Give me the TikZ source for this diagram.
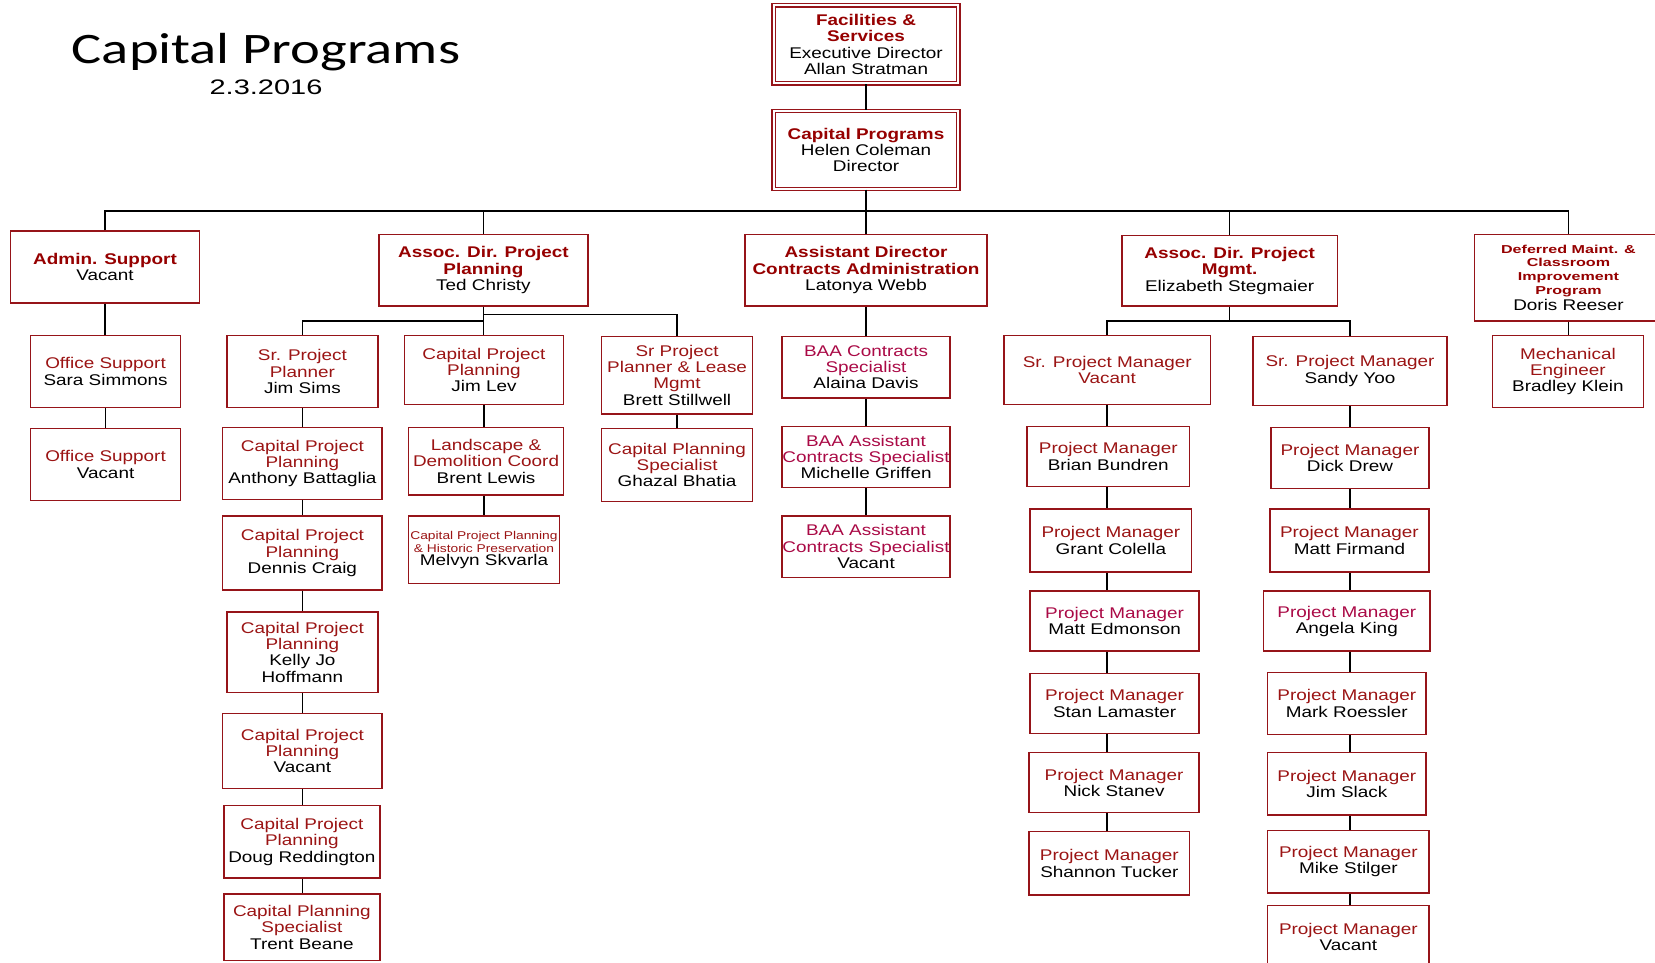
\documentclass[tikz,border=0pt]{standalone}
\usepackage{fontspec}
\setmainfont{Liberation Sans}
\newfontfamily\bxf[FakeStretch=1.22]{Liberation Sans}
\newfontfamily\dmf[FakeStretch=1.4]{Liberation Sans}
\newfontfamily\ttlf[FakeStretch=1.3]{Carlito}
\newfontfamily\dtf[FakeStretch=1.38]{Liberation Sans}
\definecolor{bord}{RGB}{150,20,25}
\definecolor{hd}{RGB}{150,0,0}
\definecolor{tl}{RGB}{155,20,20}
\definecolor{mg}{RGB}{170,10,70}
\newcommand\HD[1]{{\color{hd}\bfseries #1}}
\newcommand\TL[1]{{\color{tl}#1}}
\newcommand\MG[1]{{\color{mg}#1}}
\newcommand\DM[1]{{\color{hd}\dmf\bfseries\fontsize{11.5}{13.7}\selectfont #1}}
\newcommand\SM[1]{{\color{tl}\bxf\fontsize{11.3}{12.7}\selectfont #1}}
\newcommand\BX[7][]{\node[box,#1,minimum width={(#5-#3)*1.0555pt},minimum height={(#6-#4)*1.0555pt}] (#2) at ({(#3+#5)/2},{(#4+#6)/2}) {#7};}
\tikzset{
  box/.style={draw=bord, line width=1.5pt, fill=white, inner sep=0pt, align=center,
    font=\bxf\fontsize{15.5}{16.3}\selectfont, text=black},
  dbl/.style={double=white, double distance=2pt, line width=1.3pt},
  conn/.style={draw=black, line width=1.6pt},
}
\begin{document}
\begin{tikzpicture}[x=1.0555pt,y=-1.0555pt]
\path[use as bounding box] (0,0) rectangle (1568,912);
\fill[white] (0,0) rectangle (1568,912);
\begin{scope}
\clip (0,0) rectangle (1568,912);
% title
\node[anchor=base] (title) at (252,60.5) {\ttlf\fontsize{43.5}{44}\selectfont Capital Programs};
\node[anchor=base] (date) at (252,89.5) {\dtf\fontsize{21}{22}\selectfont 2.3.2016};
% top
\BX[dbl]{fs}{733}{5}{908}{79}{\HD{Facilities \&}\\\HD{Services}\\Executive Director\\Allan Stratman}
\BX[dbl]{cp}{733}{105}{908}{179}{\HD{Capital Programs}\\Helen Coleman\\Director}
% level 2
\BX{adm}{10}{219}{189}{287}{\HD{Admin. Support}\\Vacant}
\BX{adpp}{359}{222}{557}{290}{\HD{Assoc. Dir. Project}\\\HD{Planning}\\Ted Christy}
\BX{adca}{706}{222}{935}{290}{\HD{Assistant Director}\\\HD{Contracts Administration}\\Latonya Webb}
\BX{adpm}{1063}{223}{1267}{290}{\HD{Assoc. Dir. Project}\\\HD{Mgmt.}\\Elizabeth Stegmaier}
\BX[font=\bxf\fontsize{15.5}{13.7}\selectfont]{dm}{1397}{222}{1575}{304}{\DM{Deferred Maint. \&}\\\DM{Classroom}\\\DM{Improvement}\\\DM{Program}\\[2.5pt]Doris Reeser}
% admin column
\BX{osa}{29}{318}{171}{386}{\TL{Office Support}\\Sara Simmons}
\BX{osb}{29}{406}{171}{474}{\TL{Office Support}\\Vacant}
% planning columns
\BX{sims}{215}{318}{358}{386}{\TL{Sr. Project}\\\TL{Planner}\\Jim Sims}
\BX{batt}{211}{405}{362}{473}{\TL{Capital Project}\\\TL{Planning}\\Anthony Battaglia}
\BX{craig}{211}{489}{362}{559}{\TL{Capital Project}\\\TL{Planning}\\Dennis Craig}
\BX{kelly}{215}{580}{358}{656}{\TL{Capital Project}\\\TL{Planning}\\Kelly Jo\\Hoffmann}
\BX{cppv}{211}{676}{362}{747}{\TL{Capital Project}\\\TL{Planning}\\Vacant}
\BX{doug}{212}{763}{360}{832}{\TL{Capital Project}\\\TL{Planning}\\Doug Reddington}
\BX{trent}{212}{847}{360}{910}{\TL{Capital Planning}\\\TL{Specialist}\\Trent Beane}
\BX{lev}{383}{318}{534}{383}{\TL{Capital Project}\\\TL{Planning}\\Jim Lev}
\BX{land}{387}{405}{534}{469}{\TL{Landscape \&}\\\TL{Demolition Coord}\\Brent Lewis}
\BX[font=\bxf\fontsize{15.5}{12.7}\selectfont]{melv}{387}{489}{530}{553}{\SM{Capital Project Planning}\\\SM{\& Historic Preservation}\\Melvyn Skvarla}
\BX{stil}{570}{319}{713}{392}{\TL{Sr Project}\\\TL{Planner \& Lease}\\\TL{Mgmt}\\Brett Stillwell}
\BX{ghaz}{570}{406}{713}{475}{\TL{Capital Planning}\\\TL{Specialist}\\Ghazal Bhatia}
% contracts column
\BX{alai}{741}{319}{900}{377}{\MG{BAA Contracts}\\\MG{Specialist}\\Alaina Davis}
\BX{mich}{741}{404}{900}{462}{\MG{BAA Assistant}\\\MG{Contracts Specialist}\\Michelle Griffen}
\BX{baav}{741}{489}{900}{547}{\MG{BAA Assistant}\\\MG{Contracts Specialist}\\Vacant}
% project mgmt
\BX{spmv}{951}{318}{1147}{383}{\TL{Sr. Project Manager}\\\TL{Vacant}}
\BX{spms}{1187}{319}{1371}{384}{\TL{Sr. Project Manager}\\Sandy Yoo}
\BX{brian}{973}{404}{1127}{461}{\TL{Project Manager}\\Brian Bundren}
\BX{grant}{976}{482}{1129}{542}{\TL{Project Manager}\\Grant Colella}
\BX{edm}{976}{560}{1136}{617}{\MG{Project Manager}\\Matt Edmonson}
\BX{stan}{976}{638}{1136}{695}{\TL{Project Manager}\\Stan Lamaster}
\BX{nick}{975}{713}{1136}{770}{\TL{Project Manager}\\Nick Stanev}
\BX{shan}{975}{788}{1127}{848}{\TL{Project Manager}\\Shannon Tucker}
\BX{dick}{1204}{405}{1354}{463}{\TL{Project Manager}\\Dick Drew}
\BX{firm}{1203}{482}{1354}{542}{\TL{Project Manager}\\Matt Firmand}
\BX{king}{1197}{560}{1355}{617}{\MG{Project Manager}\\Angela King}
\BX{roes}{1201}{637}{1351}{696}{\TL{Project Manager}\\Mark Roessler}
\BX{slack}{1201}{713}{1351}{772}{\TL{Project Manager}\\Jim Slack}
\BX{stilg}{1201}{787}{1354}{846}{\TL{Project Manager}\\Mike Stilger}
\BX{pmv}{1201}{858}{1354}{917}{\TL{Project Manager}\\Vacant}
% deferred
\BX{mech}{1414}{318}{1557}{386}{\TL{Mechanical}\\\TL{Engineer}\\Bradley Klein}
% connectors
\coordinate (bus) at (821,200);
\coordinate (ba) at (459,304);
\coordinate (bb) at (459,298);
\coordinate (bc) at (1165,304);
\draw[conn] (fs.south) -- (cp.north);
\draw[conn] (cp.south) -- (cp.south |- bus);
\draw[conn] (adm.north) |- (bus) -| (dm.north);
\draw[conn] (adpp.north) -- (adpp.north |- bus);
\draw[conn] (adca.north) -- (adca.north |- bus);
\draw[conn] (adpm.north) -- (adpm.north |- bus);
\draw[conn] (adm.south) -- (adm.south |- osa.north);
\draw[conn] (osa.south) -- (osa.south |- osb.north);
\draw[conn] (adpp.south) -- (adpp.south |- lev.north);
\draw[conn] (sims.north) |- (ba);
\draw[conn] (stil.north) |- (bb);
\foreach \a/\b in {sims/batt, batt/craig, craig/kelly, kelly/cppv, cppv/doug, doug/trent}
  \draw[conn] (\a.south -| sims.south) -- (\b.north -| sims.south);
\draw[conn] (lev.south) -- (lev.south |- land.north);
\draw[conn] (land.south -| lev.south) -- (melv.north -| lev.south);
\draw[conn] (stil.south) -- (stil.south |- ghaz.north);
\draw[conn] (adca.south) -- (adca.south |- alai.north);
\foreach \a/\b in {alai/mich, mich/baav}
  \draw[conn] (\a.south -| adca.south) -- (\b.north -| adca.south);
\draw[conn] (adpm.south) -- (bc);
\draw[conn] (spmv.north) |- (bc) -| (spms.north);
\foreach \a/\b in {spmv/brian, brian/grant, grant/edm, edm/stan, stan/nick, nick/shan}
  \draw[conn] (\a.south -| spmv.south) -- (\b.north -| spmv.south);
\foreach \a/\b in {spms/dick, dick/firm, firm/king, king/roes, roes/slack, slack/stilg, stilg/pmv}
  \draw[conn] (\a.south -| spms.south) -- (\b.north -| spms.south);
\draw[conn] (dm.south) -- (dm.south |- mech.north);
\end{scope}
\end{tikzpicture}
\end{document}
